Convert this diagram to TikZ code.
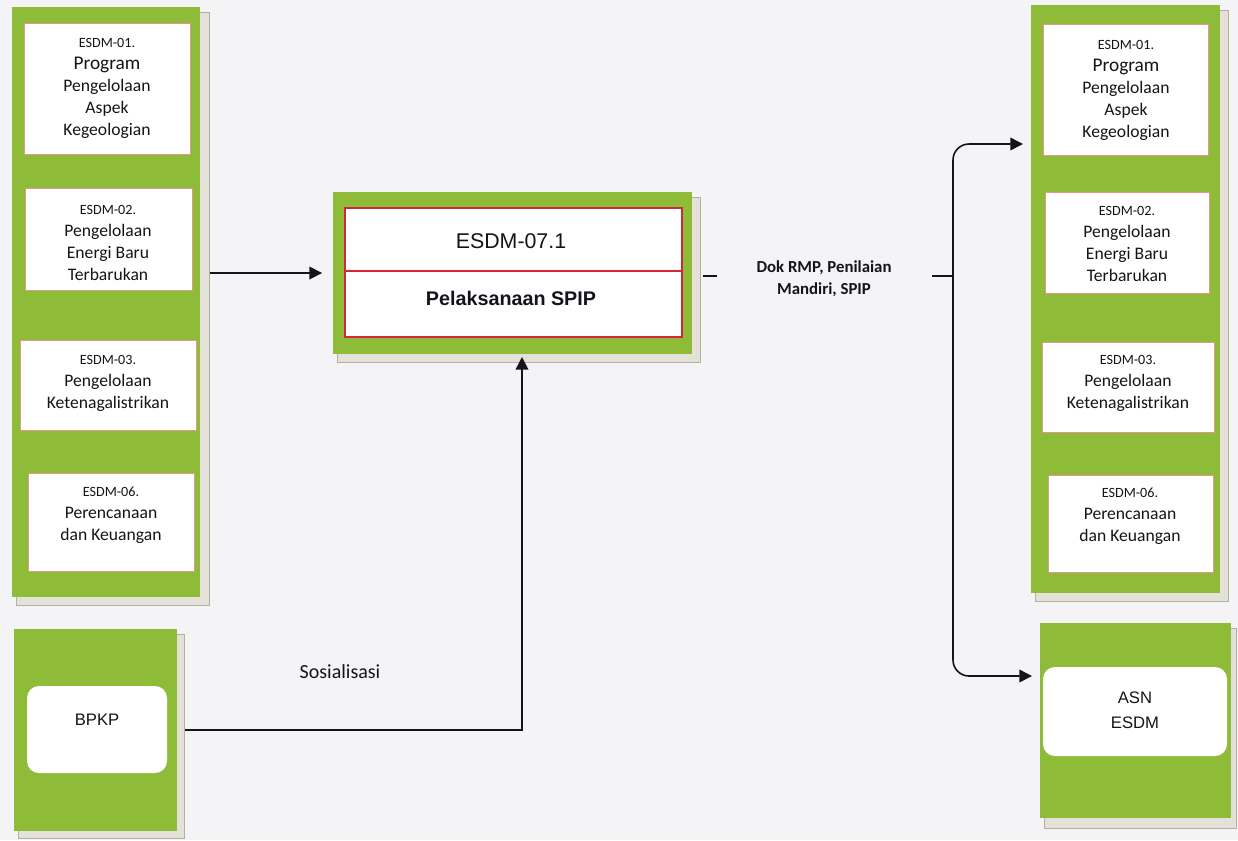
\documentclass[tikz,border=0pt]{standalone}
\usepackage{fontspec}
\setmainfont{Carlito}
\newfontfamily\arialf{Liberation Sans}
\usetikzlibrary{arrows.meta,fit}
\definecolor{bg}{RGB}{244,244,246}
\definecolor{grn}{RGB}{142,188,56}
\definecolor{shd}{RGB}{228,226,216}
\definecolor{shdline}{RGB}{178,176,164}
\definecolor{pinkb}{RGB}{226,150,140}
\definecolor{redb}{RGB}{214,36,56}
\definecolor{ink}{RGB}{20,20,26}
\begin{document}
\begin{tikzpicture}[x=0.75pt,y=-0.75pt,
  panel/.style={fill=grn, draw=none, inner sep=0pt},
  shadowbox/.style={fill=shd, draw=shdline, line width=0.6pt},
  wbox/.style={fill=white, draw=pinkb, line width=0.7pt, inner sep=0pt},
  rbox/.style={fill=white, draw=none, rounded corners=9pt, inner sep=0pt},
  redbox/.style={fill=white, draw=redb, line width=2.2pt, inner sep=0pt},
  txt/.style={text=ink, align=center, inner sep=0pt, font=\fontsize{13.2}{16.5}\selectfont},
  atxt/.style={text=ink, align=center, inner sep=0pt, font=\arialf\fontsize{12.5}{19}\selectfont},
  arr/.style={draw=ink, line width=1.2pt, -{Triangle[length=9.5pt,width=9.5pt]}},
  ln/.style={draw=ink, line width=1.2pt}]
\newcommand{\smltxt}[1]{{\fontsize{10.6}{16.5}\selectfont #1}}
\newcommand{\lrgtxt}[1]{{\fontsize{14.5}{16.5}\selectfont #1}}

\useasboundingbox (0,0) rectangle (1238,840);
\fill[bg] (0,0) rectangle (1238,840);

% ---------- left panel ----------
\draw[shadowbox] (16,12) rectangle (209,605);
\node[panel, fit={(12,7)(200,597)}] (L) {};
\node[wbox, fit={(24,23)(190,154)}] (l1) {};
\node[wbox, fit={(25,188)(192,290)}] (l2) {};
\node[wbox, fit={(20,340)(196,430)}] (l3) {};
\node[wbox, fit={(28,473)(194,571)}] (l4) {};
\node[txt] (l1t) at (107,88) {\smltxt{ESDM-01.}\\\lrgtxt{Program}\\Pengelolaan\\Aspek\\Kegeologian};
\node[txt] (l2t) at (108,243) {\smltxt{ESDM-02.}\\Pengelolaan\\Energi Baru\\Terbarukan};
\node[txt] (l3t) at (108,383) {\smltxt{ESDM-03.}\\Pengelolaan\\Ketenagalistrikan};
\node[txt] (l4t) at (111,515) {\smltxt{ESDM-06.}\\Perencanaan\\dan Keuangan};

% ---------- BPKP panel ----------
\draw[shadowbox] (18,634) rectangle (184,838);
\node[panel, fit={(14,629)(177,831)}] (B) {};
\node[rbox, fit={(27,686)(167,773)}] (b1) {};
\node[atxt] (bt) at (97,720) {BPKP};

% ---------- centre panel ----------
\draw[shadowbox] (337,197) rectangle (700,362);
\node[panel, fit={(333,192)(692,354)}] (C) {};
\node[redbox, fit={(345,208)(682,337)}] (c1) {};
\draw[redb, line width=2.2pt] (c1.west |- 0,271) -- (c1.east |- 0,271);
\node[text=ink, inner sep=0pt, font=\arialf\fontsize{16}{18}\selectfont] (ct1) at (511,241) {ESDM-07.1};
\node[text=ink, inner sep=0pt, font=\arialf\bfseries\fontsize{14.8}{18}\selectfont] (ct2) at (511,298) {Pelaksanaan SPIP};

% ---------- right top panel ----------
\draw[shadowbox] (1035,10) rectangle (1228,601);
\node[panel, fit={(1031,5)(1220,593)}] (R) {};
\node[wbox, fit={(1043,24)(1208,155)}] (r1) {};
\node[wbox, fit={(1045,192)(1209,293)}] (r2) {};
\node[wbox, fit={(1042,342)(1214,432)}] (r3) {};
\node[wbox, fit={(1048,475)(1213,572)}] (r4) {};
\node[txt] (r1t) at (1126,90) {\smltxt{ESDM-01.}\\\lrgtxt{Program}\\Pengelolaan\\Aspek\\Kegeologian};
\node[txt] (r2t) at (1127,244) {\smltxt{ESDM-02.}\\Pengelolaan\\Energi Baru\\Terbarukan};
\node[txt] (r3t) at (1128,383) {\smltxt{ESDM-03.}\\Pengelolaan\\Ketenagalistrikan};
\node[txt] (r4t) at (1130,516) {\smltxt{ESDM-06.}\\Perencanaan\\dan Keuangan};

% ---------- right bottom panel ----------
\draw[shadowbox] (1044,628) rectangle (1236,828);
\node[panel, fit={(1040,623)(1231,818)}] (A) {};
\node[rbox, fit={(1043,667)(1227,756)}] (a1) {};
\node[atxt] (at) at (1135,710) {ASN\\ESDM};

% ---------- connectors ----------
\draw[arr, shorten <=7pt, shorten >=8pt] (L.east |- C.west) -- (C.west);

\coordinate (bx) at (522,357);
\draw[arr, shorten <=6pt] (B.east) -| (bx);
\node[text=ink, inner sep=0pt, font=\fontsize{15}{18}\selectfont] (soc) at (340,672) {Sosialisasi};

\coordinate (d1) at (703,276);
\coordinate (d2) at (717,276);
\draw[ln] (d1) -- (d2);
\node[text=ink, align=center, inner sep=0pt, font=\bfseries\fontsize{12.6}{16.5}\selectfont] (dok) at (824,279) {Dok RMP, Penilaian\\Mandiri, SPIP};
\coordinate (d3) at (932,276);
\coordinate (j) at (953,276);
\draw[ln] (d3) -- (j);
\coordinate (t1) at (1023,144);
\coordinate (t2) at (1032,676);
\draw[arr, rounded corners=12pt] (j) |- (t1);
\draw[arr, rounded corners=12pt] (j) |- (t2);
\end{tikzpicture}
\end{document}
